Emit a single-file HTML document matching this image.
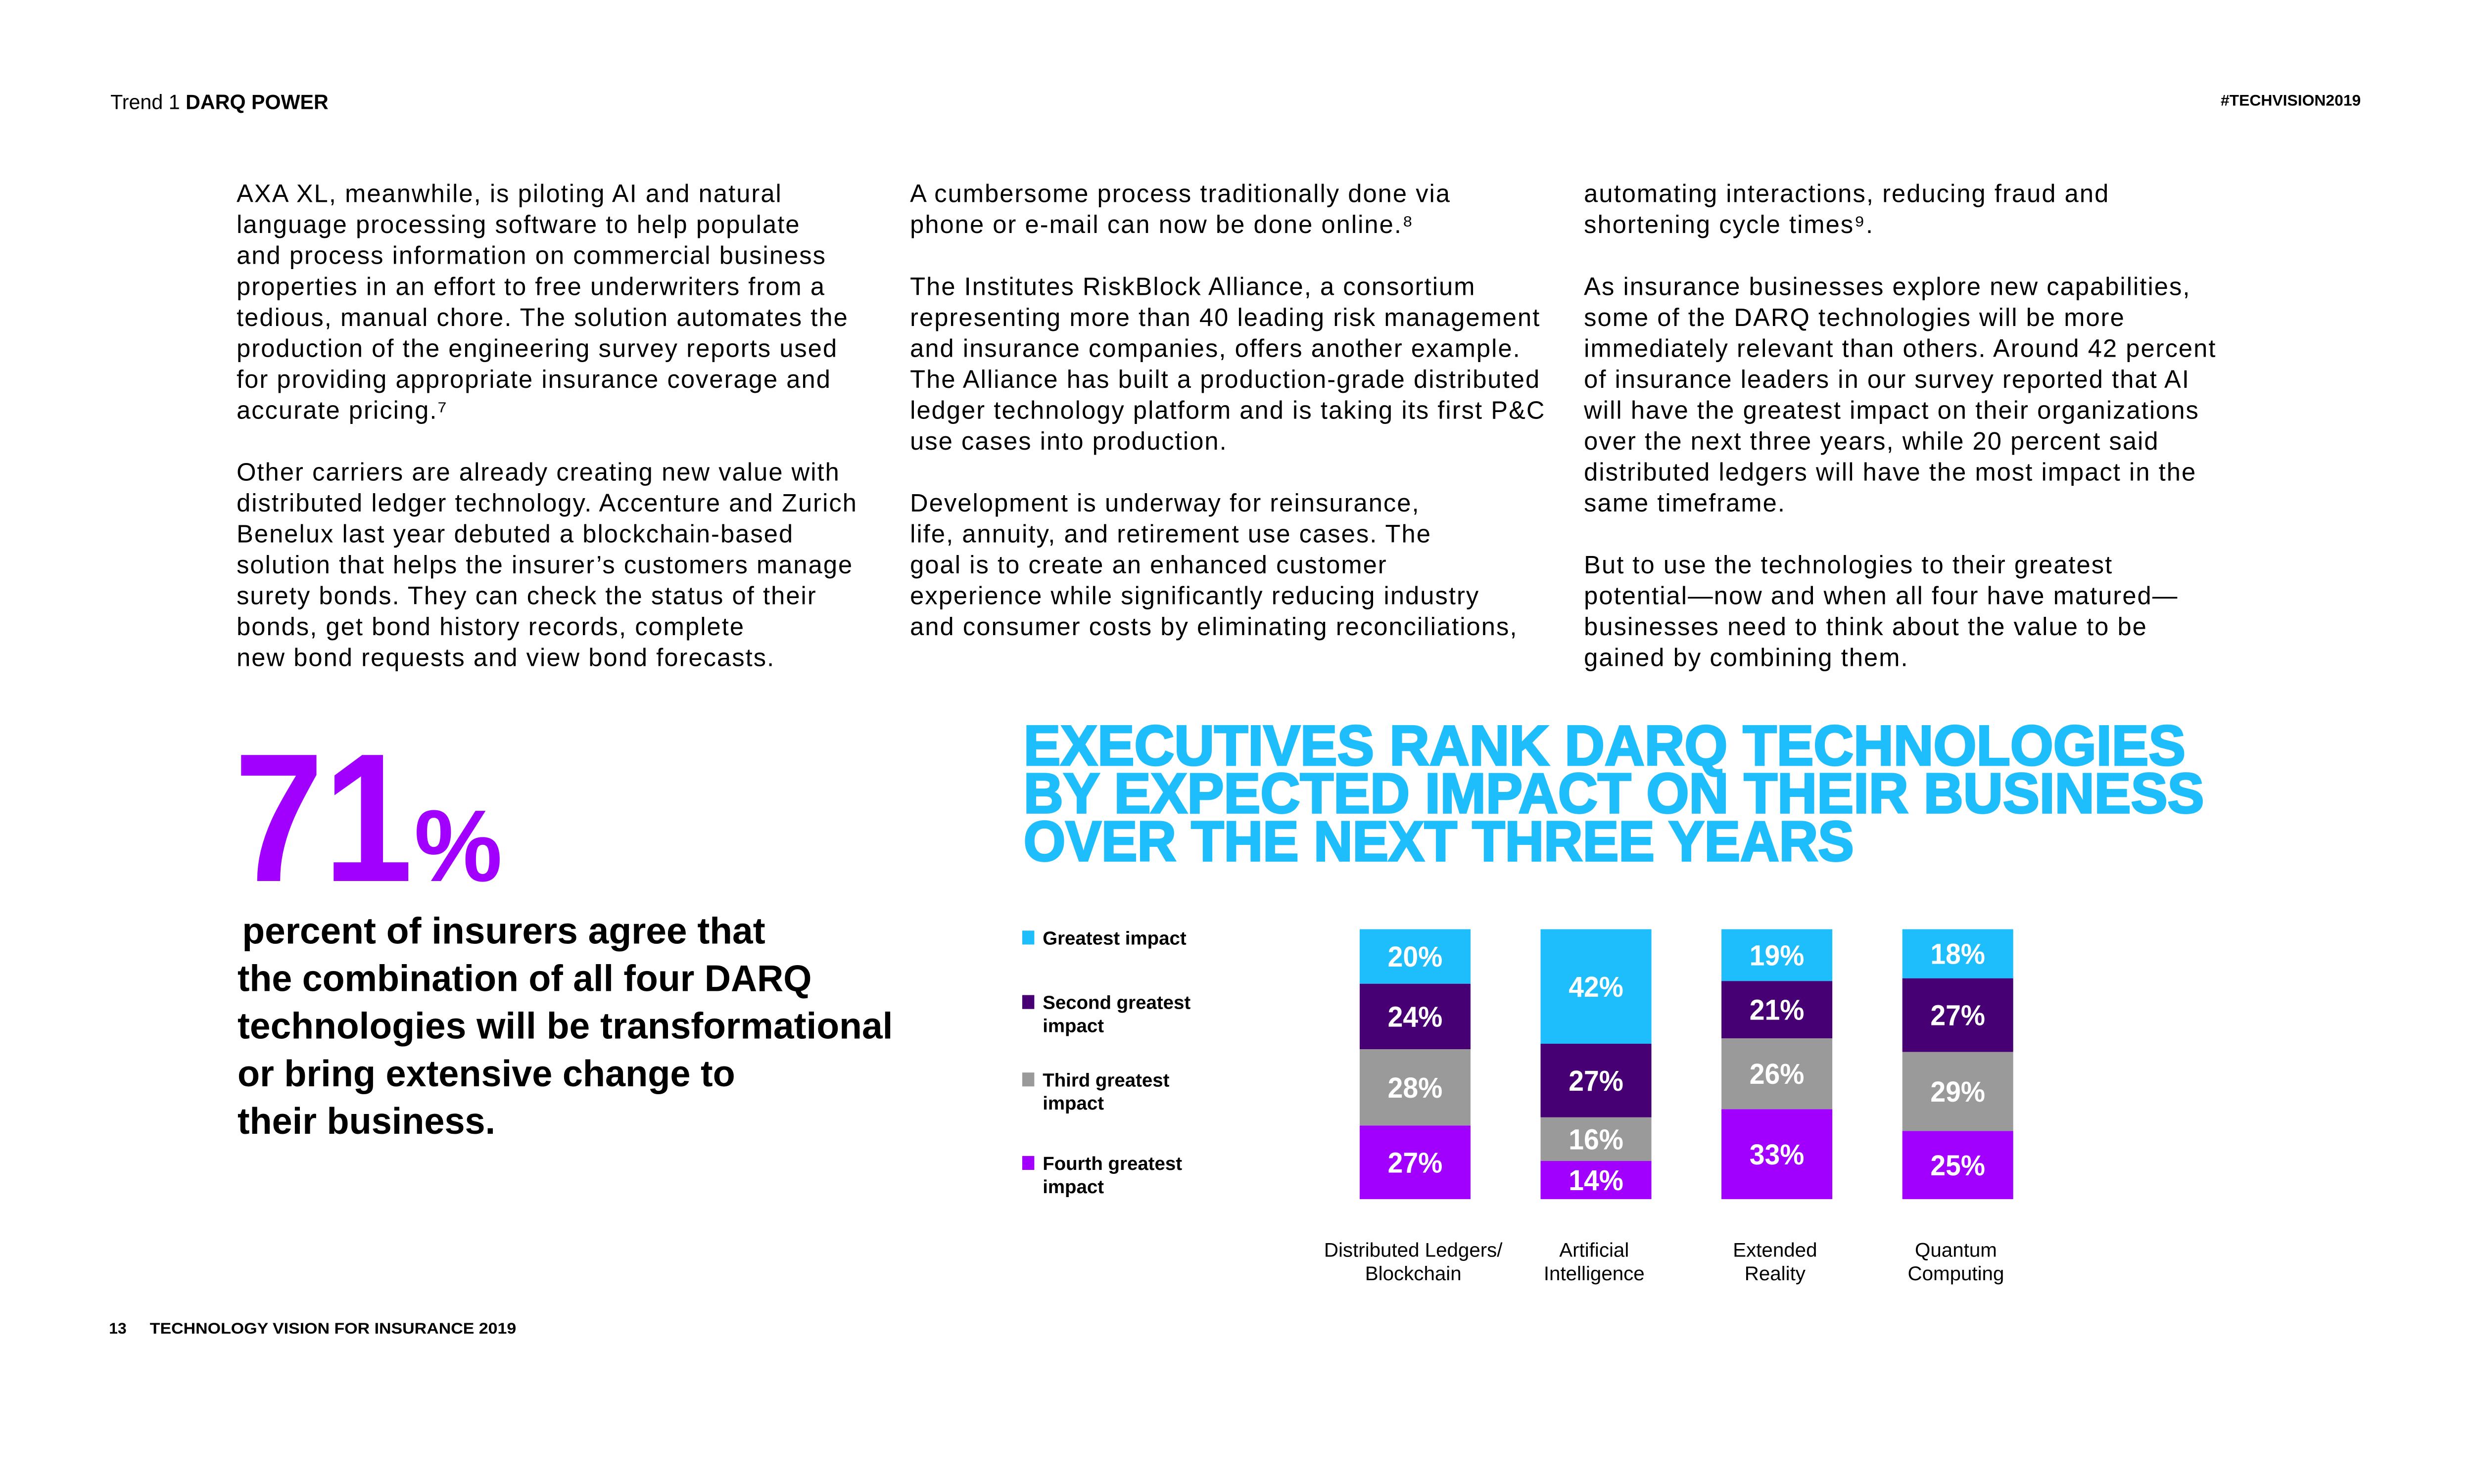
<!DOCTYPE html>
<html><head><meta charset="utf-8"><style>
html,body{margin:0;padding:0;background:#fff;overflow:hidden;}
svg{display:block;width:100vw;height:56.2430vw;}
text{font-family:"Liberation Sans",sans-serif;}
</style></head><body>
<svg id="page" viewBox="0 0 5334 3000" preserveAspectRatio="none" xmlns="http://www.w3.org/2000/svg">
<g>
<text x="238" y="235" font-size="44" fill="#000"><tspan>Trend 1 </tspan><tspan font-weight="bold">DARQ POWER</tspan></text>
<text x="5090" y="228" font-size="34" font-weight="bold" text-anchor="end" fill="#000">#TECHVISION2019</text>
</g>
<g id="body" font-size="54" letter-spacing="2.2" fill="#000"></g>
<g fill="#a100ff" font-weight="bold">
<text x="505" y="1900" font-size="395" textLength="385" lengthAdjust="spacingAndGlyphs">71</text>
<text x="893" y="1900" font-size="220" textLength="190" lengthAdjust="spacingAndGlyphs">%</text>
</g>
<g id="stat" font-size="80" font-weight="bold" fill="#000"></g>
<g id="title" font-size="122" font-weight="bold" fill="#1ebdfb" stroke="#1ebdfb" stroke-width="4"></g>
<g id="legend"></g>
<g id="chart"></g>
<g font-weight="bold" font-size="34" fill="#000">
<text x="235" y="2876">13</text>
<text x="323" y="2876" textLength="790" lengthAdjust="spacingAndGlyphs">TECHNOLOGY VISION FOR INSURANCE 2019</text>
</g>
</svg>
<script>
var NS="http://www.w3.org/2000/svg";
function mk(tag,attrs,parent,txt){var e=document.createElementNS(NS,tag);for(var k in attrs)e.setAttribute(k,attrs[k]);if(txt!==undefined)e.textContent=txt;parent.appendChild(e);return e;}
var col1=["AXA XL, meanwhile, is piloting AI and natural","language processing software to help populate","and process information on commercial business","properties in an effort to free underwriters from a","tedious, manual chore. The solution automates the","production of the engineering survey reports used","for providing appropriate insurance coverage and","accurate pricing.\u2077","","Other carriers are already creating new value with","distributed ledger technology. Accenture and Zurich","Benelux last year debuted a blockchain-based","solution that helps the insurer\u2019s customers manage","surety bonds. They can check the status of their","bonds, get bond history records, complete","new bond requests and view bond forecasts."];
var col2=["A cumbersome process traditionally done via","phone or e-mail can now be done online.\u2078","","The Institutes RiskBlock Alliance, a consortium","representing more than 40 leading risk management","and insurance companies, offers another example.","The Alliance has built a production-grade distributed","ledger technology platform and is taking its first P&C","use cases into production.","","Development is underway for reinsurance,","life, annuity, and retirement use cases. The","goal is to create an enhanced customer","experience while significantly reducing industry","and consumer costs by eliminating reconciliations,"];
var col3=["automating interactions, reducing fraud and","shortening cycle times\u2079.","","As insurance businesses explore new capabilities,","some of the DARQ technologies will be more","immediately relevant than others. Around 42 percent","of insurance leaders in our survey reported that AI","will have the greatest impact on their organizations","over the next three years, while 20 percent said","distributed ledgers will have the most impact in the","same timeframe.","","But to use the technologies to their greatest","potential\u2014now and when all four have matured\u2014","businesses need to think about the value to be","gained by combining them."];
var body=document.getElementById('body');
[[col1,510],[col2,1962],[col3,3415]].forEach(function(c,ci){
  c[0].forEach(function(l,i){ if(!l)return;
    var t=mk('text',{x:c[1],y:436+i*66.7},body,l);
    
    
  });
});
var statLines=[" percent of insurers agree that","the combination of all four DARQ","technologies will be transformational","or bring extensive change to","their business."];
var statRight=[1650,1750,1925,1585,1068];
var stat=document.getElementById('stat');
statLines.forEach(function(l,i){
  var x0=(i==0?522:512);
  var t=mk('text',{x:x0,y:2035+i*102.5,textLength:statRight[i]-x0,lengthAdjust:"spacingAndGlyphs"},stat,l);
  
  
});
var titleLines=["EXECUTIVES RANK DARQ TECHNOLOGIES","BY EXPECTED IMPACT ON THEIR BUSINESS","OVER THE NEXT THREE YEARS"];
var titleW=[2505,2545,1790];
var title=document.getElementById('title');
titleLines.forEach(function(l,i){
  var t=mk('text',{x:2207,y:1650+i*103,textLength:titleW[i],lengthAdjust:"spacingAndGlyphs"},title,l);
  
  
});
// chart data
var categories=[["Distributed Ledgers/","Blockchain"],["Artificial","Intelligence"],["Extended","Reality"],["Quantum","Computing"]];
var seriesNames=[["Greatest impact"],["Second greatest","impact"],["Third greatest","impact"],["Fourth greatest","impact"]];
var greatest=[20,42,19,18];
var second=[24,27,21,27];
var third=[28,16,26,29];
var fourth=[27,14,33,25];
var colors=["#1ebdfb","#460073","#9a9a9a","#a100ff"];
var series=[greatest,second,third,fourth];
var chartTop=2004, unitH=5.88, barW=239;
function xCenter(i){return 3051+i*390;}
function yScale(v){return chartTop+v*unitH;}
var chart=document.getElementById('chart');
categories.forEach(function(cat,ci){
  var acc=0;
  series.forEach(function(s,si){
    var v=s[ci], y0=yScale(acc), y1=yScale(acc+v);
    var r=mk('rect',{x:xCenter(ci)-barW/2,y:y0,width:barW,height:y1-y0,fill:colors[si]},chart);
    
    
    var t=mk('text',{x:xCenter(ci),y:(y0+y1)/2+22,'text-anchor':'middle','font-size':62,'font-weight':'bold',fill:'#fff',textLength:118,lengthAdjust:"spacingAndGlyphs"},chart,v+'%');
    
    
    acc+=v;
  });
  cat.forEach(function(l,li){
    var t=mk('text',{x:xCenter(ci)-4,y:2710+li*51,'text-anchor':'middle','font-size':43,fill:'#000'},chart,l);
    
    
  });
});
var legend=document.getElementById('legend');
var legY=[2037,2176,2343,2523];
seriesNames.forEach(function(n,i){
  var r=mk('rect',{x:2204,y:legY[i]-30,width:26,height:30,fill:colors[i]},legend);
  
  
  n.forEach(function(l,li){
    var t=mk('text',{x:2248,y:legY[i]+li*50,'font-size':41,'font-weight':'bold',fill:'#000'},legend,l);
    
    
  });
});
</script>
</body></html>
